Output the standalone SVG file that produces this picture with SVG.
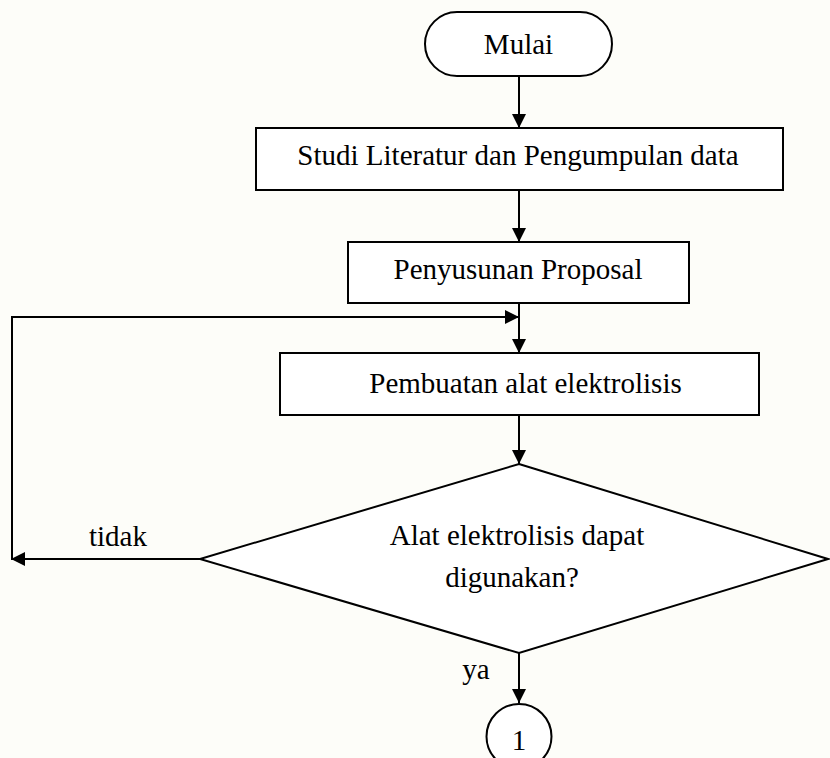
<svg xmlns="http://www.w3.org/2000/svg" width="830" height="758" viewBox="0 0 830 758">
<style>
.s{fill:#fff;stroke:#000;stroke-width:2}
.c{fill:none;stroke:#000;stroke-width:2}
text{font-family:"Liberation Serif","Times New Roman",serif;font-size:29px;fill:#000}
.m{text-anchor:middle}
</style>
<defs>
<marker id="ah" viewBox="0 0 14 14" refX="14" refY="7" markerWidth="14" markerHeight="14" markerUnits="userSpaceOnUse" orient="auto">
<path d="M0,0 L14,7 L0,14 Z" fill="#000"/>
</marker>
</defs>
<rect x="0" y="0" width="830" height="758" fill="#fdfdf9"/>
<g id="connectors">
<line class="c" x1="519" y1="76" x2="519" y2="128" marker-end="url(#ah)"/>
<line class="c" x1="519" y1="190" x2="519" y2="242" marker-end="url(#ah)"/>
<line class="c" x1="519" y1="303" x2="519" y2="353" marker-end="url(#ah)"/>
<line class="c" x1="519" y1="415" x2="519" y2="464" marker-end="url(#ah)"/>
<line class="c" x1="200" y1="559" x2="11" y2="559" marker-end="url(#ah)"/>
<polyline class="c" points="12,559 12,317 519,317" marker-end="url(#ah)"/>
<line class="c" x1="519" y1="653" x2="519" y2="703" marker-end="url(#ah)"/>
<text x="118" y="546" class="m">tidak</text>
<text x="476" y="679" class="m">ya</text>
</g>
<g id="start">
<rect class="s" x="425" y="12" width="187" height="64" rx="32" ry="32"/>
<text x="518.5" y="54" class="m">Mulai</text>
</g>
<g id="studi">
<rect class="s" x="256" y="128" width="527" height="62"/>
<text x="518" y="165" class="m">Studi Literatur dan Pengumpulan data</text>
</g>
<g id="proposal">
<rect class="s" x="348" y="242" width="341" height="61"/>
<text x="518" y="279" class="m">Penyusunan Proposal</text>
</g>
<g id="pembuatan">
<rect class="s" x="280" y="353" width="479" height="62"/>
<text x="525.5" y="393" class="m">Pembuatan alat elektrolisis</text>
</g>
<g id="decision">
<polygon class="s" points="519,464 828,559 519,653 200,559"/>
<text x="517" y="545" class="m">Alat elektrolisis dapat</text>
<text x="512" y="587" class="m">digunakan?</text>
</g>
<g id="connector1">
<circle class="s" cx="519" cy="736.5" r="32.5"/>
<text x="519" y="750" class="m">1</text>
</g>
</svg>
